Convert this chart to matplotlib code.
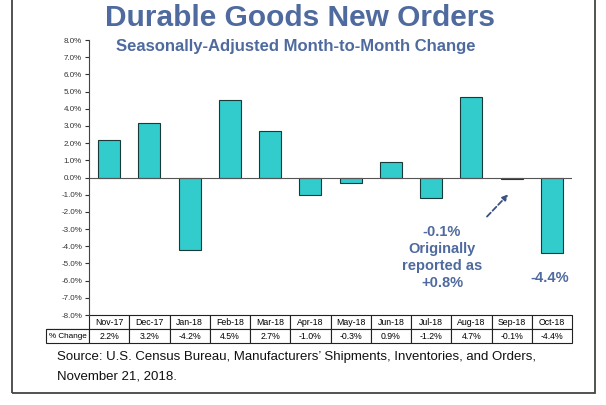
import matplotlib
matplotlib.use('Agg')
import numpy as np
import matplotlib.pyplot as plt
from matplotlib.patches import Rectangle

plt.rcParams['font.family'] = ['Liberation Sans', 'DejaVu Sans']

months = ['Nov-17', 'Dec-17', 'Jan-18', 'Feb-18', 'Mar-18', 'Apr-18',
          'May-18', 'Jun-18', 'Jul-18', 'Aug-18', 'Sep-18', 'Oct-18']
pct_change = [2.2, 3.2, -4.2, 4.5, 2.7, -1.0, -0.3, 0.9, -1.2, 4.7, -0.1, -4.4]
yticks = np.arange(-8, 9, 1)

title_col = '#4F6A9E'
bar_col = '#33CCCC'

fig = plt.figure(figsize=(6.06, 4.05), dpi=100)
ax = fig.add_axes([0.1469, 0.2222, 0.797, 0.679])

x = np.arange(len(months))
ax.bar(x, pct_change, width=0.55, color=bar_col, edgecolor='#1a3a3a', linewidth=0.8)
ax.axhline(0, color='#555555', linewidth=0.8)

ax.set_xlim(-0.5, len(months) - 0.5)
ax.set_ylim(-8, 8)
ax.set_yticks(yticks)
ax.set_yticklabels(['%.1f%%' % v for v in yticks], fontsize=5.8)
ax.tick_params(axis='y', length=3, width=0.8, pad=2, colors='#333333')
ax.set_xticks([])
for s in ['top', 'right', 'bottom']:
    ax.spines[s].set_visible(False)
ax.spines['left'].set_color('#444444')

# data table under the bars
cells = [[''] + months, ['% Change'] + ['%.1f%%' % v for v in pct_change]]
lab_w = 43 / 483
tbl = ax.table(cellText=cells, cellLoc='center',
               colWidths=[lab_w] + [1 / 12] * 12,
               bbox=[-lab_w, -0.102, 1 + lab_w, 0.102])
tbl.auto_set_font_size(False)
tbl.set_fontsize(6.3)
for (r, c), cell in tbl.get_celld().items():
    cell.set_linewidth(0.8)
    cell.set_edgecolor('#222222')
    cell.PAD = 0.02
tbl[0, 0].visible_edges = 'B'
tbl[1, 0].get_text().set_fontsize(5.9)

fig.text(0.495, 0.955, 'Durable Goods New Orders', ha='center', va='center',
         fontsize=21.5, fontweight='bold', color=title_col)
fig.text(0.488, 0.884, 'Seasonally-Adjusted Month-to-Month Change', ha='center',
         va='center', fontsize=12, fontweight='bold', color=title_col)

ax.annotate('', xy=(9.96, -0.87), xytext=(9.34, -2.39),
            arrowprops=dict(arrowstyle='-|>', linestyle=(0, (3, 1.5)), color='#3B5282',
                            lw=1.3, mutation_scale=8))
ax.text(8.27, -4.65, '-0.1%\nOriginally\nreported as\n+0.8%', ha='center',
        va='center', fontsize=10.5, fontweight='bold', color=title_col,
        linespacing=1.25)
ax.text(10.95, -5.82, '-4.4%', ha='center', va='center', fontsize=10.5,
        fontweight='bold', color=title_col)

fig.text(0.094, 0.118, 'Source: U.S. Census Bureau, Manufacturers\u2019 Shipments, Inventories, and Orders,',
         fontsize=9.5, va='center', color='#111111')
fig.text(0.094, 0.071, 'November 21, 2018.', fontsize=9.5, va='center', color='#111111')

fig.patches.append(Rectangle((0.02, 0.03), 0.962, 1.0, transform=fig.transFigure,
                             fill=False, edgecolor='#444444', linewidth=1.3))

fig.savefig('out.png', dpi=100)
